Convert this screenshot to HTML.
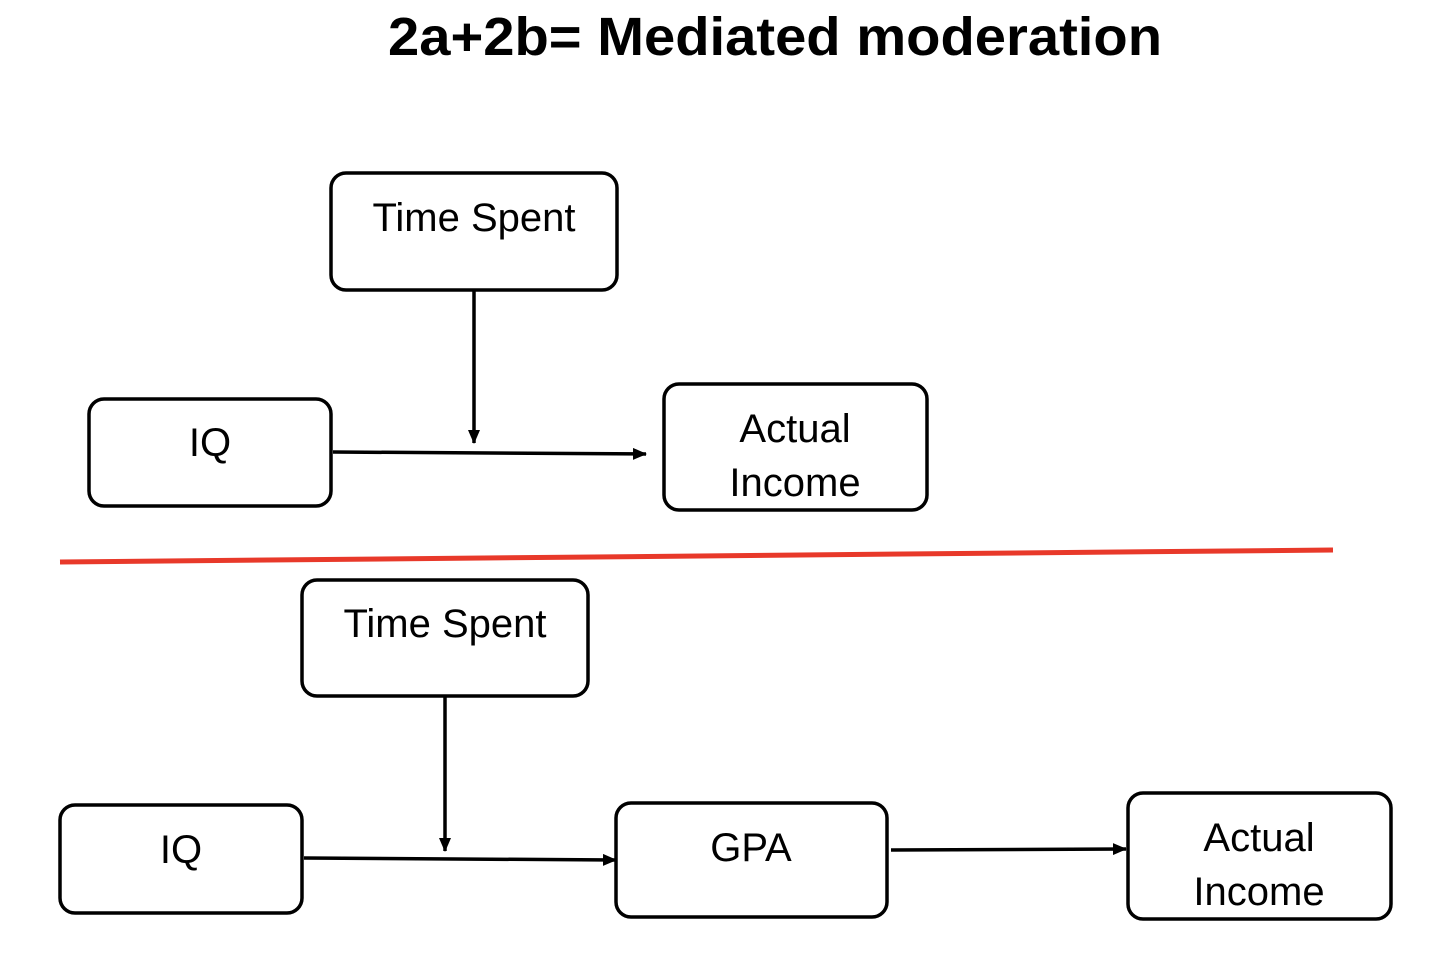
<!DOCTYPE html>
<html><head><meta charset="utf-8"><style>
html,body{margin:0;padding:0;background:#fff;}
svg{display:block;}
text{font-family:"Liberation Sans","DejaVu Sans",sans-serif;fill:#000;}
</style></head><body>
<svg width="1450" height="954" viewBox="0 0 1450 954" xmlns="http://www.w3.org/2000/svg">
<defs>
<marker id="ah" markerWidth="14" markerHeight="12" refX="13" refY="6" orient="auto" markerUnits="userSpaceOnUse">
<path d="M0,0 L14,6 L0,12 z" fill="#000"/>
</marker>
</defs>
<text x="775" y="55" text-anchor="middle" font-size="54" font-weight="bold" textLength="774" lengthAdjust="spacingAndGlyphs">2a+2b= Mediated moderation</text>
<g fill="#fff" stroke="#000" stroke-width="3.5">
<rect x="331" y="173" width="286" height="117" rx="15"/>
<rect x="89" y="399" width="242" height="107" rx="15"/>
<rect x="664" y="384" width="263" height="126" rx="15"/>
<rect x="302" y="580" width="286" height="116" rx="15"/>
<rect x="60" y="805" width="242" height="108" rx="15"/>
<rect x="616" y="803" width="271" height="114" rx="15"/>
<rect x="1128" y="793" width="263" height="126" rx="15"/>
</g>
<g stroke="#000" stroke-width="3.5" fill="none" marker-end="url(#ah)">
<line x1="474" y1="291" x2="474" y2="443"/>
<line x1="333" y1="452" x2="646" y2="454"/>
<line x1="445" y1="697" x2="445" y2="851"/>
<line x1="304" y1="858" x2="616" y2="860"/>
<line x1="891" y1="850" x2="1126" y2="849"/>
</g>
<line x1="60" y1="562" x2="1333" y2="550" stroke="#e8392a" stroke-width="5"/>
<g font-size="40" text-anchor="middle">
<text x="474" y="231">Time Spent</text>
<text x="210" y="456">IQ</text>
<text x="795" y="442">Actual</text>
<text x="795" y="496">Income</text>
<text x="445" y="637">Time Spent</text>
<text x="181" y="863">IQ</text>
<text x="751" y="861">GPA</text>
<text x="1259" y="851">Actual</text>
<text x="1259" y="905">Income</text>
</g>
</svg>
</body></html>
